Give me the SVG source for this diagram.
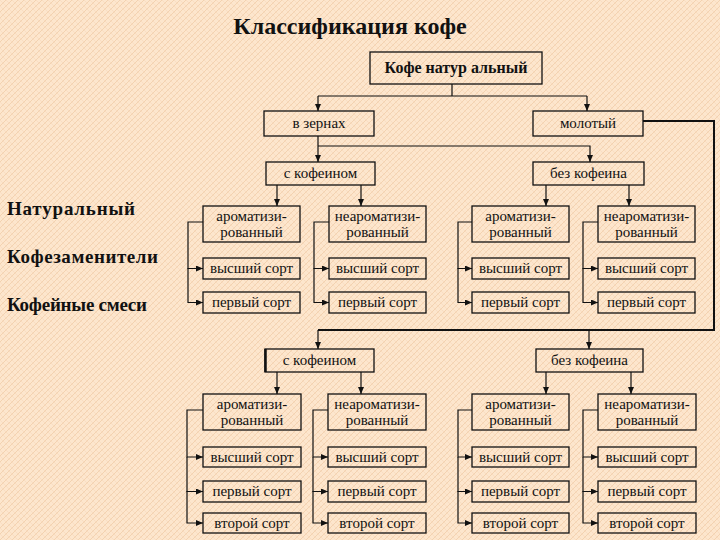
<svg xmlns="http://www.w3.org/2000/svg" width="720" height="540" viewBox="0 0 720 540">
<defs>
<pattern id="bg" width="6" height="6" patternUnits="userSpaceOnUse">
<rect width="6" height="6" fill="#fde6cd"/>
<path d="M0,6 L6,0 M-1,1 L1,-1 M5,7 L7,5" stroke="#f3d2b0" stroke-width="1"/>
<path d="M0,0 L6,6" stroke="#f8dbbf" stroke-width="0.8"/>
</pattern>
<marker id="ah" markerWidth="7" markerHeight="6" refX="7" refY="3" orient="auto" markerUnits="userSpaceOnUse">
<path d="M0,0 L7,3 L0,6 z" fill="#111"/>
</marker>
</defs>
<style>
.b{fill:none;stroke:#111;stroke-width:1.3}
.t{font-family:"Liberation Serif","Times New Roman",serif;font-size:15px;fill:#111;text-anchor:middle}
.bt{font-family:"Liberation Serif","Times New Roman",serif;font-weight:bold;fill:#111}
.c{fill:none;stroke:#111;stroke-width:1.2}
.c2{fill:none;stroke:#111;stroke-width:2}
</style>
<rect width="720" height="540" fill="url(#bg)"/>

<text class="bt" x="350" y="34" font-size="24" text-anchor="middle">Классификация кофе</text>
<g id="left-labels">
<text class="bt" x="7" y="215" font-size="19" textLength="128" lengthAdjust="spacing">Натуральный</text>
<text class="bt" x="7" y="263" font-size="19" textLength="151" lengthAdjust="spacing">Кофезаменители</text>
<text class="bt" x="7" y="311" font-size="19" textLength="140" lengthAdjust="spacing">Кофейные смеси</text>
</g>

<g id="connectors">
<path class="c" d="M452,84 V96 M318,96 H587"/>
<path class="c" d="M318,96 V111" marker-end="url(#ah)"/>
<path class="c" d="M587,96 V111" marker-end="url(#ah)"/>
<path class="c" d="M318,136 V162" marker-end="url(#ah)"/>
<path class="c" d="M318,146 H590 V162" marker-end="url(#ah)"/>
<path class="c" d="M277,185 V206" marker-end="url(#ah)"/>
<path class="c" d="M361,185 V206" marker-end="url(#ah)"/>
<path class="c" d="M546,185 V206" marker-end="url(#ah)"/>
<path class="c" d="M629,185 V206" marker-end="url(#ah)"/>
<path class="c" d="M203,222 H188 V268.5 H203" marker-end="url(#ah)"/>
<path class="c" d="M188,268 V302.5 H203" marker-end="url(#ah)"/>
<path class="c" d="M329,222 H314 V268.5 H329" marker-end="url(#ah)"/>
<path class="c" d="M314,268 V302.5 H329" marker-end="url(#ah)"/>
<path class="c" d="M472,222 H458 V268.5 H472" marker-end="url(#ah)"/>
<path class="c" d="M458,268 V302.5 H472" marker-end="url(#ah)"/>
<path class="c" d="M598,222 H583 V268.5 H598" marker-end="url(#ah)"/>
<path class="c" d="M583,268 V302.5 H598" marker-end="url(#ah)"/>

<path class="c2" d="M643,121 H714 V330 H318"/>
<path class="c" d="M318,330 V349" marker-end="url(#ah)"/>
<path class="c" d="M589,330 V349" marker-end="url(#ah)"/>
<path class="c" d="M277,372 V394" marker-end="url(#ah)"/>
<path class="c" d="M361,372 V394" marker-end="url(#ah)"/>
<path class="c" d="M546,372 V394" marker-end="url(#ah)"/>
<path class="c" d="M631,372 V394" marker-end="url(#ah)"/>
<path class="c" d="M203,410 H187 V457 H203" marker-end="url(#ah)"/>
<path class="c" d="M187,457 V491.5 H203" marker-end="url(#ah)"/>
<path class="c" d="M187,491 V523 H203" marker-end="url(#ah)"/>
<path class="c" d="M328,410 H313 V457 H328" marker-end="url(#ah)"/>
<path class="c" d="M313,457 V491.5 H328" marker-end="url(#ah)"/>
<path class="c" d="M313,491 V523 H328" marker-end="url(#ah)"/>
<path class="c" d="M472,410 H458 V457 H472" marker-end="url(#ah)"/>
<path class="c" d="M458,457 V491.5 H472" marker-end="url(#ah)"/>
<path class="c" d="M458,491 V523 H472" marker-end="url(#ah)"/>
<path class="c" d="M598,410 H583 V457 H598" marker-end="url(#ah)"/>
<path class="c" d="M583,457 V491.5 H598" marker-end="url(#ah)"/>
<path class="c" d="M583,491 V523 H598" marker-end="url(#ah)"/>
</g>

<g id="n-root"><rect class="b" x="370" y="52" width="172" height="32"/><text class="bt" x="456" y="73" font-size="16" text-anchor="middle">Кофе натур альный</text></g>
<g id="n-zerna"><rect class="b" x="264" y="111" width="110" height="25"/><text class="t" x="319" y="128">в зернах</text></g>
<g id="n-molot"><rect class="b" x="533" y="111" width="110" height="25"/><text class="t" x="588" y="128">молотый</text></g>

<g id="n-u-caf"><rect class="b" x="266" y="162" width="109" height="23"/><text class="t" x="320.5" y="178">с кофеином</text></g>
<g id="n-u-decaf"><rect class="b" x="533" y="162" width="111" height="23"/><text class="t" x="588.5" y="178">без кофеина</text></g>

<g id="n-u-a1"><rect class="b" x="203" y="206" width="97" height="36"/><text class="t" x="251.5" y="221">ароматизи-</text><text class="t" x="251.5" y="237">рованный</text></g>
<g id="n-u-n1"><rect class="b" x="329" y="206" width="97" height="36"/><text class="t" x="377.5" y="221">неароматизи-</text><text class="t" x="377.5" y="237">рованный</text></g>
<g id="n-u-a2"><rect class="b" x="472" y="206" width="97" height="36"/><text class="t" x="520.5" y="221">ароматизи-</text><text class="t" x="520.5" y="237">рованный</text></g>
<g id="n-u-n2"><rect class="b" x="598" y="206" width="97" height="36"/><text class="t" x="646.5" y="221">неароматизи-</text><text class="t" x="646.5" y="237">рованный</text></g>

<g id="n-u-v1"><rect class="b" x="203" y="258" width="97" height="21"/><text class="t" x="251.5" y="273">высший сорт</text></g>
<g id="n-u-v2"><rect class="b" x="329" y="258" width="97" height="21"/><text class="t" x="377.5" y="273">высший сорт</text></g>
<g id="n-u-v3"><rect class="b" x="472" y="258" width="97" height="21"/><text class="t" x="520.5" y="273">высший сорт</text></g>
<g id="n-u-v4"><rect class="b" x="598" y="258" width="97" height="21"/><text class="t" x="646.5" y="273">высший сорт</text></g>
<g id="n-u-p1"><rect class="b" x="203" y="292" width="97" height="21"/><text class="t" x="251.5" y="307">первый сорт</text></g>
<g id="n-u-p2"><rect class="b" x="329" y="292" width="97" height="21"/><text class="t" x="377.5" y="307">первый сорт</text></g>
<g id="n-u-p3"><rect class="b" x="472" y="292" width="97" height="21"/><text class="t" x="520.5" y="307">первый сорт</text></g>
<g id="n-u-p4"><rect class="b" x="598" y="292" width="97" height="21"/><text class="t" x="646.5" y="307">первый сорт</text></g>

<g id="n-l-caf"><rect class="b" x="265" y="349" width="109" height="23"/><line x1="265.5" y1="349" x2="265.5" y2="372" stroke="#111" stroke-width="2.5"/><text class="t" x="319.5" y="365">с кофеином</text></g>
<g id="n-l-decaf"><rect class="b" x="536" y="349" width="107" height="23"/><text class="t" x="589.5" y="365">без кофеина</text></g>

<g id="n-l-a1"><rect class="b" x="203" y="394" width="98" height="36"/><text class="t" x="252" y="409">ароматизи-</text><text class="t" x="252" y="425">рованный</text></g>
<g id="n-l-n1"><rect class="b" x="328" y="394" width="98" height="36"/><text class="t" x="377" y="409">неароматизи-</text><text class="t" x="377" y="425">рованный</text></g>
<g id="n-l-a2"><rect class="b" x="472" y="394" width="97" height="36"/><text class="t" x="520.5" y="409">ароматизи-</text><text class="t" x="520.5" y="425">рованный</text></g>
<g id="n-l-n2"><rect class="b" x="598" y="394" width="98" height="36"/><text class="t" x="647" y="409">неароматизи-</text><text class="t" x="647" y="425">рованный</text></g>

<g id="n-l-v1"><rect class="b" x="203" y="447" width="98" height="20"/><text class="t" x="252" y="462">высший сорт</text></g>
<g id="n-l-v2"><rect class="b" x="328" y="447" width="98" height="20"/><text class="t" x="377" y="462">высший сорт</text></g>
<g id="n-l-v3"><rect class="b" x="472" y="447" width="97" height="20"/><text class="t" x="520.5" y="462">высший сорт</text></g>
<g id="n-l-v4"><rect class="b" x="598" y="447" width="98" height="20"/><text class="t" x="647" y="462">высший сорт</text></g>
<g id="n-l-p1"><rect class="b" x="203" y="481" width="98" height="21"/><text class="t" x="252" y="496">первый сорт</text></g>
<g id="n-l-p2"><rect class="b" x="328" y="481" width="98" height="21"/><text class="t" x="377" y="496">первый сорт</text></g>
<g id="n-l-p3"><rect class="b" x="472" y="481" width="97" height="21"/><text class="t" x="520.5" y="496">первый сорт</text></g>
<g id="n-l-p4"><rect class="b" x="598" y="481" width="98" height="21"/><text class="t" x="647" y="496">первый сорт</text></g>
<g id="n-l-s1"><rect class="b" x="203" y="513" width="98" height="20"/><text class="t" x="252" y="528">второй сорт</text></g>
<g id="n-l-s2"><rect class="b" x="328" y="513" width="98" height="20"/><text class="t" x="377" y="528">второй сорт</text></g>
<g id="n-l-s3"><rect class="b" x="472" y="513" width="97" height="20"/><text class="t" x="520.5" y="528">второй сорт</text></g>
<g id="n-l-s4"><rect class="b" x="598" y="513" width="98" height="20"/><text class="t" x="647" y="528">второй сорт</text></g>
</svg>
